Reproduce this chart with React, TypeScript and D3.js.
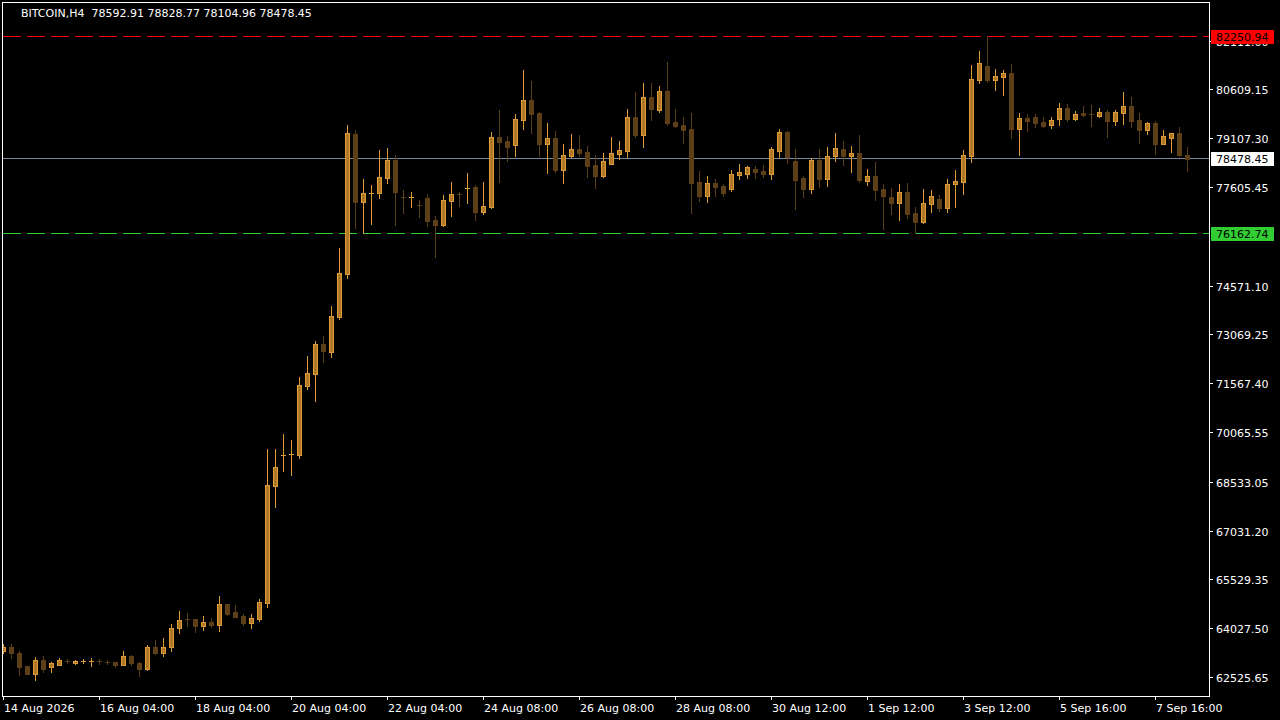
import React from 'react';
import * as d3 from 'd3';

// BITCOIN H4 candles, 14 Aug 2026 -> 8 Sep 2026
const open = [
  63327, 63441, 63257, 62856, 62629, 63041, 62844, 62906, 63029, 62958,
  62998, 62998, 63011, 62989, 62989, 62906, 63174, 62967, 62774, 63441,
  63275, 63460, 64026, 64303, 64303, 64106, 64220, 64137, 64764, 64518,
  64413, 64199, 64321, 64814, 68414, 69328, 69358, 69358, 71481, 71860,
  72774, 72537, 73605, 74937, 79235, 77152, 77420, 77429, 77891, 78435,
  77288, 77266, 77051, 77257, 76580, 76445, 77183, 77389, 77565, 77595,
  76845, 76999, 79143, 79020, 78908, 79676, 80282, 79882, 78938, 79112,
  78137, 78568, 78774, 78682, 78282, 77952, 78322, 78629, 78722, 79759,
  79215, 80374, 79983, 80559, 79605, 79512, 79389, 77759, 77337, 77728,
  77636, 77552, 77984, 78014, 78159, 78097, 78014, 78722, 79297, 78405,
  77882, 77552, 78435, 77851, 78559, 78774, 78559, 78651, 77789, 77943,
  77543, 77297, 77112, 77451, 76805, 76528, 77082, 77236, 76958, 77697,
  77759, 78559, 80897, 81328, 80897, 80989, 81113, 79389, 79728, 79759,
  79605, 79522, 79697, 80036, 79697, 79882, 79842, 79789, 79912, 79645,
  79882, 80097, 79666, 79368, 79574, 78937, 79122, 79266, 78592.91,
];
const high = [
  63534, 63534, 63327, 62856, 63143, 63174, 62998, 63112, 63081, 63059,
  63081, 63112, 63081, 63041, 62989, 63327, 63204, 62998, 63512, 63666,
  63727, 64158, 64549, 64497, 64303, 64395, 64334, 65020, 64764, 64743,
  64466, 64466, 64928, 69543, 69543, 70005, 69820, 71758, 72405, 72866,
  73020, 73943, 75728, 79512, 79358, 77851, 77666, 78743, 78805, 78589,
  77512, 77451, 77205, 77389, 76712, 77359, 77758, 77451, 78035, 77666,
  77758, 79297, 79974, 79174, 79851, 81205, 80866, 79912, 79574, 79328,
  78928, 79235, 79205, 78866, 78589, 78651, 79143, 79020, 80005, 80528,
  80805, 80805, 80712, 81451, 80005, 79759, 79882, 78097, 77943, 77851,
  77697, 78128, 78312, 78251, 78251, 78282, 78836, 79389, 79328, 78783,
  77943, 78497, 78774, 78836, 79266, 79020, 78866, 79205, 78159, 78374,
  77697, 77574, 77697, 77728, 76989, 77543, 77513, 77359, 77851, 78128,
  78743, 81359, 81789, 82251, 81236, 81205, 81390, 79882, 79851, 79851,
  79759, 79759, 80189, 80159, 79943, 80097, 80128, 80036, 79974, 79974,
  80528, 80374, 79882, 79605, 79636, 79358, 79266, 79451, 78828.77,
];
const low = [
  63257, 63121, 62589, 62629, 62444, 62691, 62691, 62906, 62949, 62918,
  62949, 62875, 62918, 62918, 62844, 62906, 62906, 62567, 62743, 63244,
  63174, 63337, 63872, 64097, 63921, 63974, 64057, 63952, 64435, 64364,
  64127, 64045, 64260, 64691, 67767, 68866, 68743, 69275, 71389, 71029,
  72220, 72383, 73543, 74814, 76352, 76180, 76475, 77276, 77737, 76445,
  76814, 76999, 76691, 76405, 75460, 76405, 76722, 77020, 77097, 76589,
  76783, 76968, 77768, 78414, 78569, 79398, 79276, 78569, 78045, 78075,
  77737, 78537, 78559, 77922, 77583, 77922, 78322, 78476, 78537, 79153,
  78845, 79676, 79922, 79522, 79460, 78968, 76814, 77183, 77152, 77337,
  77337, 77491, 77860, 77891, 77891, 77922, 77860, 78537, 78353, 76937,
  77306, 77429, 77605, 77636, 78405, 78282, 78066, 77759, 77666, 77205,
  76312, 76774, 76589, 76651, 76180, 76497, 76835, 76866, 76835, 76989,
  77389, 78374, 80805, 80836, 80589, 80436, 79112, 78589, 79328, 79451,
  79460, 79429, 79522, 79636, 79666, 79789, 79482, 79759, 79153, 79522,
  79543, 79460, 78968, 79245, 78629, 78937, 78691, 78568, 78104.96,
];
const close = [
  63441, 63257, 62844, 62629, 63041, 62783, 62958, 63051, 63011, 63029,
  63020, 63020, 62989, 62967, 62906, 63174, 62967, 62783, 63441, 63275,
  63441, 64026, 64272, 64281, 64106, 64211, 64137, 64764, 64466, 64383,
  64189, 64343, 64826, 68435, 68989, 69349, 69380, 71512, 71881, 72774,
  72558, 73635, 74958, 79266, 77152, 77420, 77435, 77912, 78435, 77460,
  77266, 77288, 77029, 76568, 76445, 77205, 77389, 77368, 77583, 76845,
  77020, 79143, 78999, 78845, 79697, 80282, 79860, 78938, 79112, 78137,
  78589, 78774, 78661, 78260, 77952, 78405, 78651, 78743, 79759, 79215,
  80374, 80014, 80559, 79584, 79491, 79368, 77737, 77337, 77728, 77614,
  77429, 78005, 78066, 78220, 78076, 78014, 78774, 79297, 78537, 77829,
  77552, 78435, 77851, 78559, 78805, 78559, 78651, 77820, 77943, 77513,
  77328, 77112, 77451, 76774, 76528, 77112, 77328, 76958, 77697, 77789,
  78589, 80928, 81420, 80897, 81020, 81113, 79389, 79728, 79645, 79574,
  79491, 79666, 80036, 79697, 79851, 79820, 79820, 79912, 79645, 79912,
  80097, 79645, 79368, 79574, 78937, 79174, 79266, 78598, 78478.45,
];

const priceTicks = [
  82111.0, 80609.15, 79107.3, 77605.45, 74571.1, 73069.25, 71567.4,
  70065.55, 68533.05, 67031.2, 65529.35, 64027.5, 62525.65,
];
const timeTickIndex = [0, 12, 24, 36, 48, 60, 72, 84, 96, 108, 120, 132, 144];
const timeTickLabels = [
  '14 Aug 2026', '16 Aug 04:00', '18 Aug 04:00', '20 Aug 04:00', '22 Aug 04:00',
  '24 Aug 08:00', '26 Aug 08:00', '28 Aug 08:00', '30 Aug 12:00', '1 Sep 12:00',
  '3 Sep 12:00', '5 Sep 16:00', '7 Sep 16:00',
];

const resistance = 82250.94;
const support = 76162.74;
const lastPrice = 78478.45;
const symbol = 'BITCOIN,H4';

const W = 1280;
const H = 720;
const plot = { left: 3, right: 1209, top: 3, bottom: 696 };
const font = '"DejaVu Sans", Verdana, sans-serif';

const bullLine = '#dc9c38';
const bullFill = '#b07828';
const bearColor = '#5c3f16';

const fmt = (v: number) => v.toFixed(2);

export default function App() {
  const x = d3.scaleLinear().domain([0, open.length - 1]).range([3.5, 1187.5]);
  const y = d3.scaleLinear().domain([62525.65, 82250.94]).range([677, 36]);
  const row = (p: number) => Math.floor(y(p));

  const candles = open.map((o, i) => {
    const c = close[i];
    const bull = c >= o;
    const cx = x(i);
    const t = Math.round(y(Math.max(o, c)));
    const b = Math.round(y(Math.min(o, c)));
    const col = bull ? bullLine : bearColor;
    return (
      <g key={i}>
        <line x1={cx} x2={cx} y1={Math.round(y(high[i]))} y2={Math.round(y(low[i])) + 1} stroke={col} strokeWidth={1} />
        {b - t < 2 ? (
          <line x1={cx - 2.5} x2={cx + 2.5} y1={t + 0.5} y2={t + 0.5} stroke={col} strokeWidth={1} />
        ) : (
          <rect
            x={cx - 2}
            y={t + 0.5}
            width={4}
            height={b - t}
            fill={bull ? bullFill : bearColor}
            stroke={col}
            strokeWidth={1}
          />
        )}
      </g>
    );
  });

  const hLine = (price: number, color: string, dashed: boolean) => (
    <line
      x1={plot.left}
      x2={plot.right}
      y1={row(price) + 0.5}
      y2={row(price) + 0.5}
      stroke={color}
      strokeWidth={1}
      strokeDasharray={dashed ? '18 6' : undefined}
    />
  );

  const priceTag = (price: number, bg: string) => {
    const py = row(price);
    return (
      <g>
        <rect x={1211} y={py - 6} width={63} height={14} fill={bg} />
        <text x={1216} y={py + 5} fill="#000" fontSize={11} fontFamily={font}>
          {fmt(price)}
        </text>
      </g>
    );
  };

  return (
    <svg width={W} height={H} style={{ position: 'fixed', left: 0, top: 0, background: '#000' }}>
      <rect width={W} height={H} fill="#000" />
      <defs>
        <clipPath id="plotClip">
          <rect x={plot.left} y={plot.top} width={plot.right - plot.left} height={plot.bottom - plot.top} />
        </clipPath>
      </defs>

      <g clipPath="url(#plotClip)">
        {hLine(resistance, '#ff0000', true)}
        {hLine(support, '#32cd32', true)}
        {hLine(lastPrice, '#778899', false)}
        {candles}
      </g>

      <rect
        x={plot.left - 0.5}
        y={plot.top - 0.5}
        width={plot.right - plot.left + 1}
        height={plot.bottom - plot.top + 1}
        fill="none"
        stroke="#fff"
        strokeWidth={1}
      />

      {/* price axis */}
      {priceTicks.map((p) => {
        const py = Math.round(y(p));
        return (
          <g key={p}>
            <line x1={plot.right} x2={plot.right + 4} y1={py + 0.5} y2={py + 0.5} stroke="#fff" />
            <text x={1216} y={py + 4.5} fill="#fff" fontSize={11} fontFamily={font}>
              {fmt(p)}
            </text>
          </g>
        );
      })}
      {priceTag(resistance, '#ff0000')}
      {priceTag(lastPrice, '#ffffff')}
      {priceTag(support, '#32cd32')}

      {/* time axis */}
      {timeTickIndex.map((idx, k) => {
        const tx = Math.floor(x(idx)) + 0.5;
        return (
          <g key={idx}>
            <line x1={tx} x2={tx} y1={plot.bottom} y2={plot.bottom + 4} stroke="#fff" />
            <text x={tx + 0.5} y={711.5} fill="#fff" fontSize={11} fontFamily={font}>
              {timeTickLabels[k]}
            </text>
          </g>
        );
      })}

      <text x={21} y={16.5} fill="#fff" fontSize={11} fontFamily={font} style={{ whiteSpace: 'pre' }}>
        {`${symbol}  ${fmt(open[open.length - 1])} ${fmt(high[high.length - 1])} ${fmt(low[low.length - 1])} ${fmt(close[close.length - 1])}`}
      </text>
    </svg>
  );
}
